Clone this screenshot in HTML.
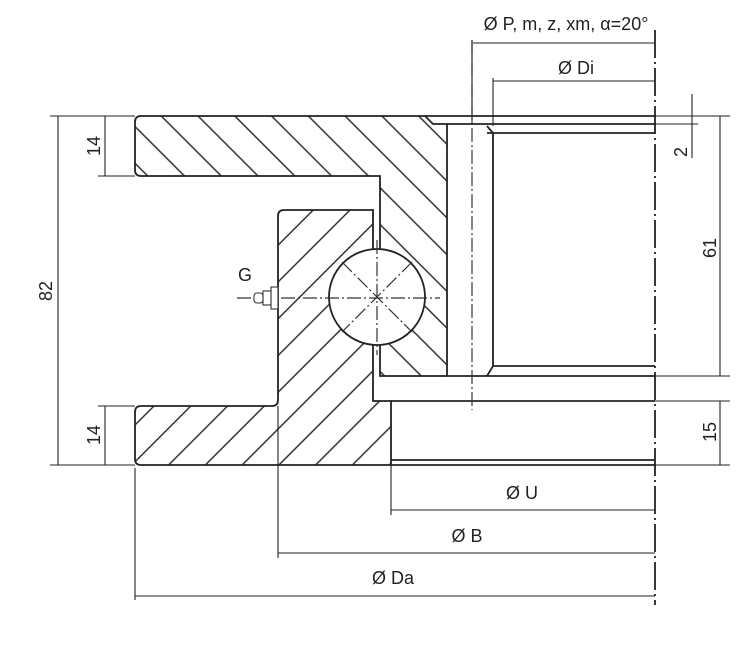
<!DOCTYPE html>
<html><head><meta charset="utf-8"><style>
html,body{margin:0;padding:0;background:#fff;width:756px;height:645px;overflow:hidden}
text{font-family:"Liberation Sans","DejaVu Sans",sans-serif;fill:#222}
</style></head><body>
<svg width="756" height="645" viewBox="0 0 756 645" xmlns="http://www.w3.org/2000/svg">
<defs>
<pattern id="hb" patternUnits="userSpaceOnUse" width="26" height="26" patternTransform="rotate(-45)">
<line x1="6" y1="0" x2="6" y2="26" stroke="#222" stroke-width="1.4"/>
</pattern>
<pattern id="hf" patternUnits="userSpaceOnUse" width="26" height="26" patternTransform="rotate(45)">
<line x1="6" y1="0" x2="6" y2="26" stroke="#222" stroke-width="1.4"/>
</pattern>
</defs>
<g stroke="#222" stroke-width="1.8" fill="none">
<path d="M141,116 L425,116 L433,124 L447,124 L447,376 L380,376 L380,176 L141,176 Q135,176 135,170 L135,122 Q135,116 141,116 Z" fill="url(#hb)"/>
<path d="M284,210 L373,210 L373,401 L391,401 L391,465 L141,465 Q135,465 135,459 L135,412 Q135,406 141,406 L272,406 Q278,406 278,400 L278,216 Q278,210 284,210 Z" fill="url(#hf)"/>
<circle cx="377" cy="297" r="48" fill="#fff"/>
<line x1="447" y1="124" x2="655" y2="124"/>
<line x1="425" y1="116" x2="655" y2="116"/>
<line x1="487" y1="133" x2="655" y2="133"/>
<path d="M487,126 L493,133 L493,366 L487,376"/>
<line x1="493" y1="366" x2="655" y2="366"/>
<line x1="447" y1="376" x2="655" y2="376"/>
<line x1="391" y1="401" x2="655" y2="401"/>
<line x1="391" y1="460" x2="655" y2="460"/>
<line x1="391" y1="465" x2="655" y2="465"/>
</g>
<g stroke="#333" stroke-width="1.2" stroke-dasharray="14,3,2,3" fill="none">
<line x1="237" y1="298" x2="440" y2="298"/>
<line x1="377" y1="240" x2="377" y2="355"/>
<line x1="342" y1="262" x2="412" y2="332"/>
<line x1="412" y1="262" x2="342" y2="332"/>
<line x1="472" y1="40" x2="472" y2="410"/>
</g>
<line x1="655" y1="30" x2="655" y2="605" stroke="#222" stroke-width="1.8" stroke-dasharray="28,4,2,4"/>
<g stroke="#333" stroke-width="1.1" fill="#fff">
<rect x="271" y="287" width="7" height="22"/>
<rect x="263" y="291" width="8" height="14"/>
<rect x="254" y="293" width="9" height="10" rx="3"/>
</g>
<text x="238" y="281" font-size="18">G</text>
<g stroke="#222" stroke-width="1.1" fill="none">
<line x1="50" y1="116" x2="135" y2="116"/>
<line x1="50" y1="465" x2="135" y2="465"/>
<line x1="58" y1="116" x2="58" y2="465"/>
<line x1="98" y1="176" x2="135" y2="176"/>
<line x1="98" y1="406" x2="135" y2="406"/>
<line x1="105" y1="116" x2="105" y2="176"/>
<line x1="105" y1="406" x2="105" y2="465"/>
<line x1="655" y1="116" x2="730" y2="116"/>
<line x1="655" y1="124" x2="698" y2="124"/>
<line x1="655" y1="376" x2="730" y2="376"/>
<line x1="655" y1="401" x2="730" y2="401"/>
<line x1="655" y1="465" x2="730" y2="465"/>
<line x1="720" y1="116" x2="720" y2="376"/>
<line x1="720" y1="401" x2="720" y2="465"/>
<line x1="692" y1="94" x2="692" y2="158"/>
<line x1="472" y1="40" x2="472" y2="124"/>
<line x1="473" y1="43" x2="655" y2="43"/>
<line x1="493" y1="78" x2="493" y2="126"/>
<line x1="493" y1="81" x2="655" y2="81"/>
<line x1="391" y1="465" x2="391" y2="515"/>
<line x1="391" y1="510" x2="655" y2="510"/>
<line x1="278" y1="406" x2="278" y2="558"/>
<line x1="278" y1="553" x2="655" y2="553"/>
<line x1="135" y1="468" x2="135" y2="600"/>
<line x1="135" y1="596" x2="655" y2="596"/>
</g>
<g font-size="18">
<text x="566" y="30" text-anchor="middle">Ø P, m, z, xm, α=20°</text>
<text x="576" y="74" text-anchor="middle">Ø Di</text>
<text x="522" y="499" text-anchor="middle">Ø U</text>
<text x="467" y="542" text-anchor="middle">Ø B</text>
<text x="393" y="584" text-anchor="middle">Ø Da</text>
<text transform="translate(52,291) rotate(-90)" text-anchor="middle">82</text>
<text transform="translate(100,146) rotate(-90)" text-anchor="middle">14</text>
<text transform="translate(100,435) rotate(-90)" text-anchor="middle">14</text>
<text transform="translate(716,248) rotate(-90)" text-anchor="middle">61</text>
<text transform="translate(716,432) rotate(-90)" text-anchor="middle">15</text>
<text transform="translate(687,152) rotate(-90)" text-anchor="middle">2</text>
</g>
</svg>
</body></html>
